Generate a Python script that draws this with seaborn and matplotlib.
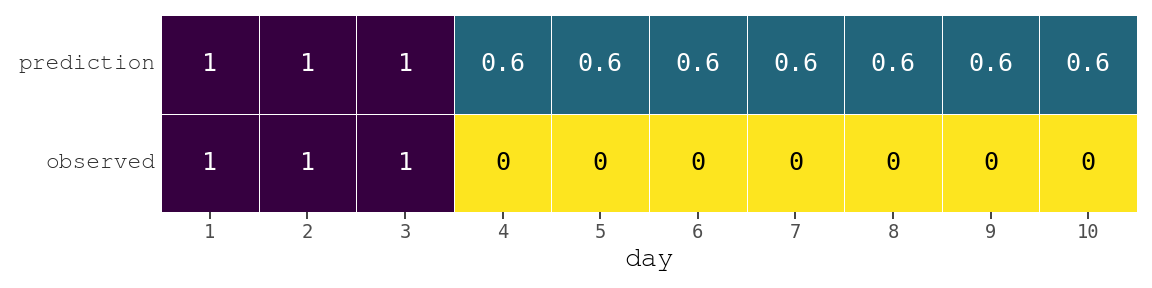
import matplotlib
matplotlib.use("Agg")
import matplotlib.pyplot as plt
import seaborn as sns
import pandas as pd
import numpy as np
from matplotlib.colors import LinearSegmentedColormap

days = [1, 2, 3, 4, 5, 6, 7, 8, 9, 10]
rows = ["prediction", "observed"]
prediction = [1, 1, 1, 0.6, 0.6, 0.6, 0.6, 0.6, 0.6, 0.6]
observed = [1, 1, 1, 0, 0, 0, 0, 0, 0, 0]

df = pd.DataFrame([prediction, observed], index=rows, columns=days)
labels = df.map(lambda v: f"{v:g}")

cmap = LinearSegmentedColormap.from_list(
    "vr", [(0.0, "#fde51f"), (0.6, "#22657b"), (1.0, "#360040")])

sns.set_theme(style="white")
fig = plt.figure(figsize=(11.52, 2.88), dpi=100)
ax = fig.add_axes([161 / 1152, 1 - 212 / 288, (1137 - 161) / 1152, (212 - 15) / 288])

sns.heatmap(df, ax=ax, cmap=cmap, vmin=0, vmax=1, cbar=False,
            annot=labels, fmt="", linewidths=0.7, linecolor="white",
            annot_kws={"family": "DejaVu Sans Mono", "fontsize": 18})

for t in ax.texts:
    val = float(t.get_text())
    t.set_color("black" if val < 0.3 else "white")

ax.set_xlabel("day", family="FreeMono", fontsize=20, color="black", labelpad=5)
ax.set_ylabel("")
ax.tick_params(axis="x", bottom=True, length=5, width=1.3, color="#333333",
               labelsize=13.5, labelcolor="#4d4d4d", pad=3)
ax.tick_params(axis="y", left=False, length=0, labelsize=16.5, labelcolor="#2a2a2a", pad=4)
for lab in ax.get_xticklabels():
    lab.set_family("DejaVu Sans Mono")
for lab in ax.get_yticklabels():
    lab.set_family("FreeMono")
    lab.set_rotation(0)

fig.savefig("out.png", dpi=100)
